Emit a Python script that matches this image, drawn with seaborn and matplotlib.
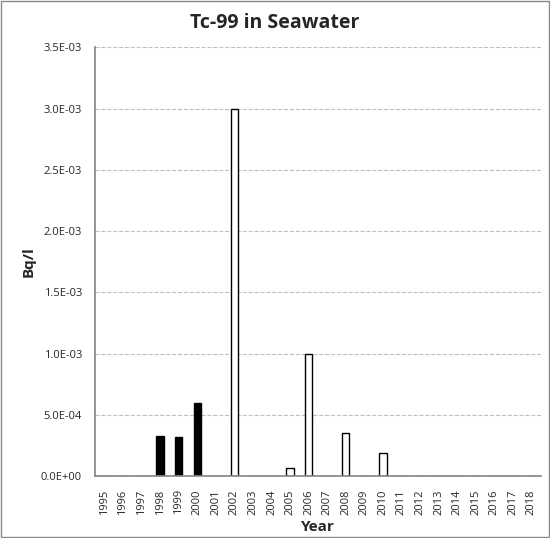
import matplotlib
matplotlib.use("Agg")
import matplotlib.pyplot as plt
import seaborn as sns
import pandas as pd
import numpy as np

years = [str(y) for y in range(1995, 2019)]
black_vals = {"1998": 3.3e-4, "1999": 3.2e-4, "2000": 6.0e-4}
white_vals = {"2002": 3.0e-3, "2005": 6.5e-5, "2006": 1.0e-3, "2008": 3.5e-4, "2010": 1.9e-4}

sns.set_theme(style="white")
plt.rcParams['font.family'] = ['Open Sans', 'DejaVu Sans']

vals = [black_vals.get(y, white_vals.get(y, 0.0)) for y in years]
kind = ["black" if y in black_vals else "white" for y in years]
df = pd.DataFrame({"Year": years, "Value": vals, "Kind": kind})

fig = plt.figure(figsize=(5.5, 5.38), dpi=100)
ax = fig.add_axes([0.173, 0.115, 0.81, 0.797])
sns.barplot(data=df, x="Year", y="Value", hue="Kind", palette={"black": "black", "white": "white"},
            dodge=False, width=0.4, edgecolor="black", linewidth=1, legend=False, ax=ax)
ax.set_ylim(0, 3.5e-3)
ticks = np.arange(0, 3.51e-3, 5e-4)
ax.set_yticks(ticks)
ax.set_yticklabels([f"{t:.1E}".replace("E-0", "E-0").replace("E+00", "E+00") for t in ticks], fontsize=8)
ax.set_xticks(range(len(years)))
ax.set_xticklabels(years, rotation=90, fontsize=8)
ax.yaxis.grid(True, linestyle="--", color="#c0c0c0", linewidth=0.8)
ax.set_axisbelow(True)
for s in ["top", "right"]:
    ax.spines[s].set_visible(False)
for s in ["left", "bottom"]:
    ax.spines[s].set_color("#888888")
ax.set_xlabel("Year", fontsize=11, fontweight="bold")
ax.set_ylabel("Bq/l", fontsize=11, fontweight="bold")
fig.suptitle("Tc-99 in Seawater", fontsize=14, fontweight="bold", y=0.975)
fig.patches.append(plt.Rectangle((0.002, 0.002), 0.996, 0.996, transform=fig.transFigure,
                                 fill=False, edgecolor="#888888", linewidth=1))
fig.savefig("out.png", dpi=100)
